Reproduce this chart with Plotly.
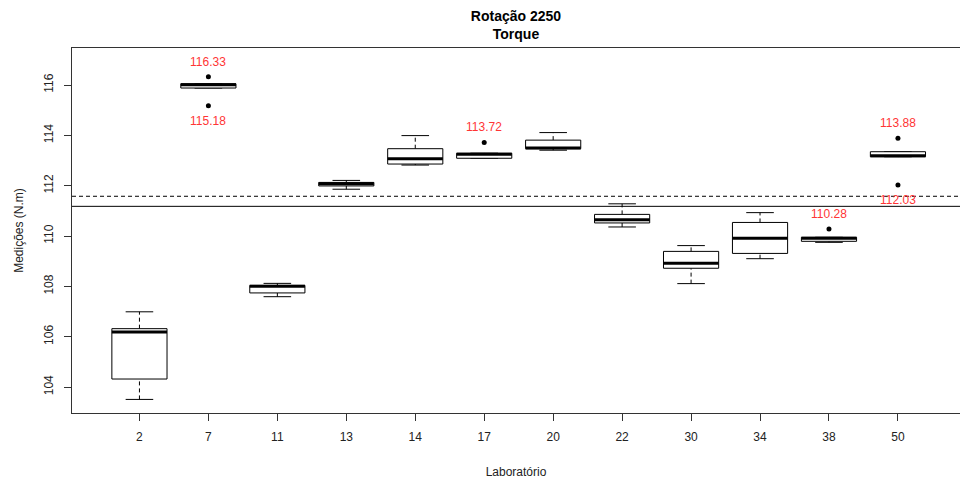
import plotly.graph_objects as go

# Torque measurements per laboratory (box summaries, N.m)
labs = ["2", "7", "11", "13", "14", "17", "20", "22", "30", "34", "38", "50"]
whisker_low = [103.51, 115.88, 107.59, 111.86, 112.82, 113.09, 113.41, 110.36, 108.11, 109.10, 109.75, 113.15]
q1 = [104.32, 115.88, 107.74, 111.99, 112.86, 113.09, 113.47, 110.52, 108.72, 109.31, 109.79, 113.15]
median = [106.19, 116.01, 108.01, 112.08, 113.07, 113.25, 113.50, 110.65, 108.92, 109.91, 109.91, 113.19]
q3 = [106.32, 116.05, 108.04, 112.13, 113.47, 113.29, 113.81, 110.86, 109.39, 110.54, 109.95, 113.35]
whisker_high = [106.99, 116.05, 108.12, 112.21, 113.99, 113.29, 114.11, 111.28, 109.62, 110.93, 109.95, 113.35]

# Outlying measurements: laboratory, value, label placement
outlier_lab = ["7", "7", "17", "38", "50", "50"]
outlier_val = [116.33, 115.18, 113.72, 110.28, 113.88, 112.03]
outlier_side = ["above", "below", "above", "above", "above", "below"]

# Reference levels
ref_dashed = 111.58
ref_solid = 111.18

FONT = "Liberation Sans, Arial, sans-serif"
BOX_HALF = 0.4
STAPLE_HALF = 0.2

pos = {lab: i + 1 for i, lab in enumerate(labs)}

fig = go.Figure()
shapes = []
line_k = dict(color="black", width=1)

for lab, lo, a, m, b, hi in zip(labs, whisker_low, q1, median, q3, whisker_high):
    x = pos[lab]
    # dashed whiskers
    shapes.append(dict(type="line", xref="x", yref="y", x0=x, x1=x, y0=b, y1=hi,
                       line=dict(color="black", width=1, dash="4px,3px")))
    shapes.append(dict(type="line", xref="x", yref="y", x0=x, x1=x, y0=lo, y1=a,
                       line=dict(color="black", width=1, dash="4px,3px")))
    # staples
    for v in (lo, hi):
        shapes.append(dict(type="line", xref="x", yref="y", x0=x - STAPLE_HALF, x1=x + STAPLE_HALF,
                           y0=v, y1=v, line=line_k))
    # box
    shapes.append(dict(type="rect", xref="x", yref="y", x0=x - BOX_HALF, x1=x + BOX_HALF,
                       y0=a, y1=b, line=line_k, fillcolor="white"))
    # median
    shapes.append(dict(type="line", xref="x", yref="y", x0=x - BOX_HALF, x1=x + BOX_HALF,
                       y0=m, y1=m, line=dict(color="black", width=3)))

# reference lines across the panel
shapes.append(dict(type="line", xref="paper", yref="y", x0=0, x1=1, y0=ref_dashed, y1=ref_dashed,
                   line=dict(color="black", width=1, dash="4px,3px")))
shapes.append(dict(type="line", xref="paper", yref="y", x0=0, x1=1, y0=ref_solid, y1=ref_solid,
                   line=dict(color="black", width=1)))

fig.add_trace(go.Scatter(
    x=[pos[l] for l in outlier_lab], y=outlier_val, mode="markers",
    marker=dict(color="black", size=5), showlegend=False, hoverinfo="y"))

annotations = []
for lab, v, side in zip(outlier_lab, outlier_val, outlier_side):
    annotations.append(dict(x=pos[lab], y=v, xref="x", yref="y", text=f"{v:.2f}",
                            showarrow=False, yshift=15 if side == "above" else -15,
                            font=dict(family=FONT, size=12, color="#ff3535")))

fig.update_layout(
    width=960, height=483,
    margin=dict(l=72, r=0, t=48, b=70),
    paper_bgcolor="white", plot_bgcolor="white",
    font=dict(family=FONT, size=12, color="black"),
    title=dict(text="<b>Rotação 2250</b><br><b>Torque</b>", x=0.5, xref="paper",
               y=1 - 21 / 483, yanchor="middle", yref="container",
               font=dict(family=FONT, size=14, color="black")),
    shapes=shapes,
    annotations=annotations,
    showlegend=False,
    xaxis=dict(
        range=[0.022, 12.9], tickmode="array", tickvals=[pos[l] for l in labs], ticktext=labs,
        showgrid=False, zeroline=False, showline=True, linecolor="#333333", linewidth=1,
        mirror=True, ticks="outside", ticklen=7, tickcolor="#333333",
        ticklabelstandoff=6, tickfont=dict(size=12, color="#222222"),
        title=dict(text="Laboratório", standoff=24, font=dict(size=12, color="#222222")),
    ),
    yaxis=dict(
        range=[102.97, 117.47], tickmode="array", tickvals=[104, 106, 108, 110, 112, 114, 116],
        showgrid=False, zeroline=False, showline=True, linecolor="#333333", linewidth=1,
        ticks="outside", ticklen=7, tickcolor="#333333", tickangle=-90,
        ticklabelstandoff=6, tickfont=dict(size=12, color="#222222"),
        title=dict(text="Medições (N.m)", standoff=16, font=dict(size=12, color="#222222")),
    ),
)

fig.write_html("out.html")
